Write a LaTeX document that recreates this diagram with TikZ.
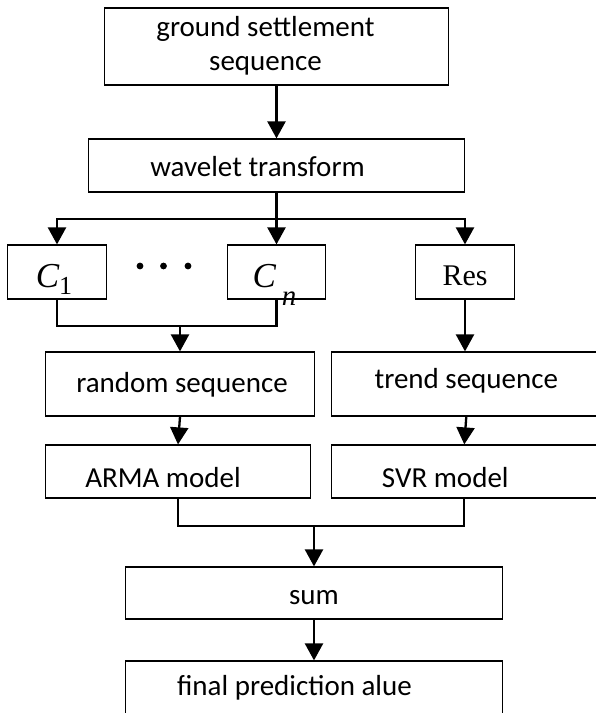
\documentclass[tikz,border=0pt]{standalone}
\usepackage{fontspec}
\setmainfont{Carlito}
\newfontfamily\symfont{Liberation Serif}
\usetikzlibrary{arrows.meta}
\begin{document}
\begin{tikzpicture}[x=1pt,y=-1pt,
  box/.style={draw, rectangle, line width=1.2pt, inner sep=0pt},
  txt/.style={font=\fontsize{29}{34}\selectfont, align=center, inner sep=0pt},
  sym/.style={font=\symfont\fontsize{30}{30}\selectfont, inner sep=0pt},
  wire/.style={line width=2.3pt},
  arr/.style={wire, -{Triangle[length=17pt,width=18pt]}}]
\useasboundingbox (0,0) rectangle (596,713);
\fill[white] (0,0) rectangle (596,713);

% processing boxes
\node[box, minimum width=344pt, minimum height=77pt,
  label={[txt, xshift=-11pt, yshift=1pt]center:ground settlement\\sequence}] (gss) at (276.5,46.5) {};
\node[box, minimum width=376pt, minimum height=53pt,
  label={[txt, xshift=-19pt, yshift=-1pt]center:wavelet transform}] (wt) at (276.5,165.5) {};

\node[box, minimum width=99pt, minimum height=54pt,
  label={[sym, xshift=-3pt, yshift=-4pt]center:{\fontsize{35}{35}\selectfont\itshape C}\smash{\raisebox{-7pt}{\fontsize{26}{26}\selectfont 1}}}] (c1) at (57,272) {};
\node[box, minimum width=98pt, minimum height=54pt,
  label={[sym, xshift=-2pt, yshift=-4pt]center:{\fontsize{35}{35}\selectfont\itshape C}\hspace{6pt}\smash{\raisebox{-18pt}{\fontsize{29}{29}\selectfont\itshape n}}}] (cn) at (276.5,272) {};
\node[box, minimum width=99pt, minimum height=54pt,
  label={[sym, yshift=-4pt]center:Res}] (res) at (465,272) {};

\fill (140,266) circle (3.4pt) (163.5,266) circle (3.4pt) (188,266) circle (3.4pt);

\node[box, minimum width=269pt, minimum height=64pt,
  label={[txt, xshift=2pt, yshift=-1pt]center:random sequence}] (rnd) at (180,384) {};
\node[box, minimum width=269pt, minimum height=64pt,
  label={[txt, yshift=3pt]center:trend sequence}] (trd) at (466.3,384) {};

\node[box, minimum width=265pt, minimum height=53pt,
  label={[txt, xshift=-15pt, yshift=-6pt]center:ARMA model}] (arma) at (178,471.5) {};
\node[box, minimum width=265pt, minimum height=53pt,
  label={[txt, xshift=-19pt, yshift=-6pt]center:SVR model}] (svr) at (464.3,471.5) {};

\node[box, minimum width=377pt, minimum height=52pt,
  label={[txt, yshift=-5pt]center:sum}] (sum) at (314,593) {};
\node[box, minimum width=377pt, minimum height=53pt,
  label={[txt, xshift=-19.5pt]center:final prediction alue}] (fin) at (314,687.5) {};

% connectors
\coordinate (split) at (276.5,219);
\coordinate (j1) at (180,326);
\coordinate (j2) at (314,526);

\draw[arr] (gss.south) -- (wt.north);
\draw[arr] (wt.south) -- (cn.north);
\draw[arr] (split) -| (c1.north);
\draw[arr] (split) -| (res.north);

\draw[wire] (c1.south) |- (cn.south |- j1) -- (cn.south);
\draw[arr] (j1) -- (rnd.north);
\draw[arr] (res.south) -- (res.south |- trd.north);

\draw[arr] (rnd.south) -- (arma.north);
\draw[arr] (trd.south) -- (svr.north);

\draw[wire] (arma.south) |- (svr.south |- j2) -- (svr.south);
\draw[arr] (j2) -- (sum.north);
\draw[arr] (sum.south) -- (fin.north);
\end{tikzpicture}
\end{document}
